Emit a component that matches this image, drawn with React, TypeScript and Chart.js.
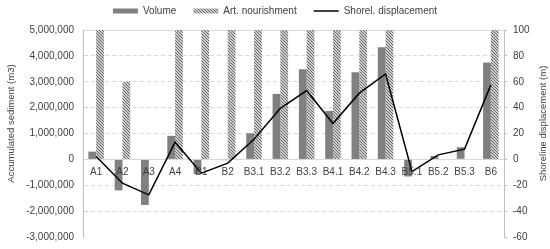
import React, { useEffect, useRef } from 'react';
import { Chart, registerables } from 'chart.js';

Chart.register(...registerables);

const categories = ['A1', 'A2', 'A3', 'A4', 'B1', 'B2', 'B3.1', 'B3.2', 'B3.3', 'B4.1', 'B4.2', 'B4.3', 'B5.1', 'B5.2', 'B5.3', 'B6'];
const volume = [300000, -1200000, -1760000, 910000, -570000, -30000, 1010000, 2530000, 3480000, 1870000, 3370000, 4330000, -660000, 130000, 470000, 3740000];
const nourishment = [5000000, 3000000, 0, 5000000, 5000000, 5000000, 5000000, 5000000, 5000000, 5000000, 5000000, 5000000, 0, 0, 0, 5000000];
const shoreline = [2.2, -18.4, -27.4, 13.3, -10.7, -2.9, 15.6, 39.5, 53.2, 27.7, 51.2, 66, -9.4, 3.5, 7.9, 57.6];
const seriesNames = ['Volume', 'Art. nourishment', 'Shorel. displacement'];
const axisTitles = ['Accumulated sediment (m3)', 'Shoreline displacement (m)'];
const leftRange = { min: -3000000, max: 5000000, step: 1000000 };
const rightRange = { min: -60, max: 100, step: 20 };

const FONT = "'Liberation Sans', Arial, sans-serif";
const TEXT = '#404040';

function makeHatch(): CanvasPattern | string {
  const c = document.createElement('canvas');
  c.width = 3;
  c.height = 3;
  const g = c.getContext('2d');
  if (!g) return '#aaaaaa';
  g.fillStyle = '#ffffff';
  g.fillRect(0, 0, 3, 3);
  g.strokeStyle = '#606060';
  g.lineWidth = 1.15;
  g.beginPath();
  g.moveTo(-1, -1);
  g.lineTo(4, 4);
  g.moveTo(2, -1);
  g.lineTo(4, 1);
  g.moveTo(-1, 2);
  g.lineTo(1, 4);
  g.stroke();
  return g.createPattern(c, 'repeat') || '#aaaaaa';
}

const axisTitlePlugin = {
  id: 'axisTitlePlugin',
  afterDraw(chart: any) {
    const ctx = chart.ctx;
    const midY = (chart.chartArea.top + chart.chartArea.bottom) / 2 - 10;
    ctx.save();
    ctx.fillStyle = TEXT;
    ctx.font = `9.5px ${FONT}`;
    ctx.textAlign = 'center';
    ctx.textBaseline = 'middle';
    ctx.translate(11, midY);
    ctx.rotate(-Math.PI / 2);
    ctx.fillText(axisTitles[0], 0, 0);
    ctx.restore();
    ctx.save();
    ctx.fillStyle = TEXT;
    ctx.font = `9.5px ${FONT}`;
    ctx.textAlign = 'center';
    ctx.textBaseline = 'middle';
    ctx.translate(543, midY);
    ctx.rotate(-Math.PI / 2);
    ctx.fillText(axisTitles[1], 0, 0);
    ctx.restore();
  },
};

export default function App() {
  const ref = useRef<HTMLCanvasElement | null>(null);
  useEffect(() => {
    if (!ref.current) return;
    const hatch = makeHatch();
    const chart = new Chart(ref.current, {
      type: 'bar',
      data: {
        labels: categories,
        datasets: [
          {
            type: 'bar',
            label: seriesNames[0],
            data: volume,
            backgroundColor: '#808080',
            borderWidth: 0,
            yAxisID: 'y',
            xAxisID: 'x',
            categoryPercentage: 0.59,
            barPercentage: 1,
            pointStyle: 'rect',
            order: 2,
          } as any,
          {
            type: 'bar',
            label: seriesNames[1],
            data: nourishment,
            backgroundColor: hatch,
            borderWidth: 0,
            yAxisID: 'y',
            xAxisID: 'x',
            categoryPercentage: 0.59,
            barPercentage: 1,
            pointStyle: 'rect',
            order: 2,
          } as any,
          {
            type: 'line',
            label: seriesNames[2],
            data: shoreline,
            borderColor: '#000000',
            backgroundColor: '#000000',
            borderWidth: 1.5,
            pointRadius: 0,
            tension: 0,
            fill: false,
            yAxisID: 'y1',
            xAxisID: 'x',
            pointStyle: 'line',
            order: 1,
          } as any,
        ],
      },
      options: {
        responsive: false,
        animation: false,
        devicePixelRatio: 1,
        layout: { padding: { top: -11, left: 0, right: 0, bottom: 12 } },
        plugins: {
          legend: {
            position: 'top',
            align: 'center',
            labels: {
              usePointStyle: true,
              pointStyleWidth: 25,
              boxHeight: 5,
              boxWidth: 25,
              padding: 17,
              color: TEXT,
              font: { size: 10, family: FONT },
              sort: (a: any, b: any) => a.datasetIndex - b.datasetIndex,
            },
          },
          tooltip: { enabled: false },
        },
        scales: {
          x: {
            type: 'category',
            position: { y: 0 } as any,
            offset: true,
            grid: { display: false, drawTicks: false },
            border: { display: true, color: '#d9d9d9', width: 1 },
            ticks: { z: 1, padding: 7, color: TEXT, font: { size: 10, family: FONT }, maxRotation: 0, autoSkip: false },
          },
          xTop: {
            type: 'category',
            position: 'top',
            display: true,
            grid: { display: false, drawTicks: false },
            border: { display: false },
            ticks: { display: false },
            afterFit: (s: any) => {
              s.height = 4;
            },
          },
          y: {
            type: 'linear',
            position: 'left',
            min: leftRange.min,
            max: leftRange.max,
            ticks: {
              stepSize: leftRange.step,
              padding: 9,
              color: TEXT,
              font: { size: 10, family: FONT },
              callback: (v: any) => Number(v).toLocaleString('en-US'),
            },
            grid: {
              drawTicks: false,
              color: (c: any) => {
                const v = c.tick ? c.tick.value : null;
                if (v === 0 || v === leftRange.min) return 'rgba(0,0,0,0)';
                return '#d9d9d9';
              },
              lineWidth: 1,
            },
            border: {
              display: true,
              color: '#bfbfbf',
              width: 1,
              dash: (c: any) => (c.type === 'tick' && c.tick && c.tick.value !== leftRange.max ? [4, 3] : []),
            } as any,
            afterFit: (s: any) => {
              s.width = 83;
              s.paddingTop = 0;
              s.paddingBottom = 0;
            },
          },
          y1: {
            type: 'linear',
            position: 'right',
            min: rightRange.min,
            max: rightRange.max,
            ticks: {
              stepSize: rightRange.step,
              padding: 6,
              color: TEXT,
              font: { size: 10, family: FONT },
            },
            grid: { drawOnChartArea: false, drawTicks: true, tickLength: 3, tickColor: '#bfbfbf' },
            border: { display: true, color: '#bfbfbf', width: 1 },
            afterFit: (s: any) => {
              s.width = 46;
              s.paddingTop = 0;
              s.paddingBottom = 0;
            },
          },
        },
      } as any,
      plugins: [axisTitlePlugin],
    });
    return () => chart.destroy();
  }, []);

  return (
    <div style={{ position: 'fixed', left: 0, top: 0, width: 550, height: 249, background: '#ffffff' }}>
      <canvas ref={ref} width={550} height={249} style={{ width: 550, height: 249, display: 'block' }} />
    </div>
  );
}
